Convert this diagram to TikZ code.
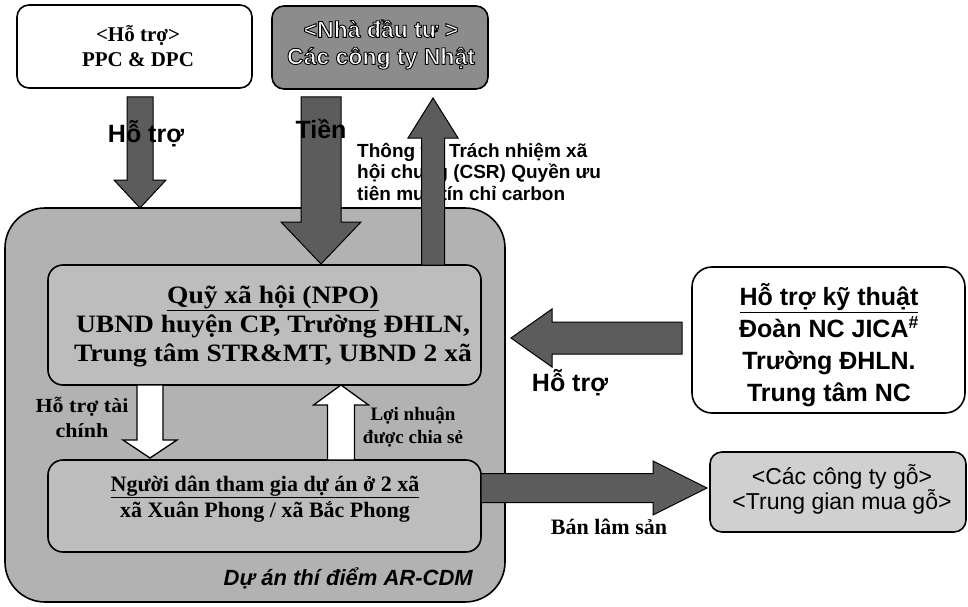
\documentclass[tikz,border=0pt]{standalone}
\usepackage{fontspec}
\setmainfont{Liberation Serif}
\newfontfamily\serifw[FakeStretch=1.1]{Liberation Serif}
\newfontfamily\arial{Liberation Sans}
\usetikzlibrary{calc}
\definecolor{outergray}{HTML}{B2B2B2}
\definecolor{innergray}{HTML}{BDBDBD}
\definecolor{invgray}{HTML}{8C8C8C}
\definecolor{arrowgray}{HTML}{5C5C5C}
\definecolor{woodgray}{HTML}{D0D0D0}
\newcommand\fs[2]{\fontsize{#1}{#2}\selectfont}
\newcommand\outlinetext[1]{{\color{white}\special{pdf:literal direct 0 0 0 RG 0.9 w 2 Tr}#1\special{pdf:literal direct 0 Tr}}}
% #1 style, #2 start, #3 tip, #4 shaft half width, #5 head half width, #6 head length
\newcommand\blockarrow[6]{%
  \coordinate (bh) at ($(#3)!#6!(#2)$);
  \path[#1] ($(#2)!#4!90:(#3)$) -- ($(bh)!#4!90:(#3)$) -- ($(bh)!#5!90:(#3)$) -- (#3)
    -- ($(bh)!#5!-90:(#3)$) -- ($(bh)!#4!-90:(#3)$) -- ($(#2)!#4!-90:(#3)$) -- cycle;}
\tikzset{
  box/.style={draw=black, line width=1.6pt, rounded corners=12pt, inner sep=0pt, outer sep=0pt},
  darkarrow/.style={fill=arrowgray, draw=black, line width=1pt},
  whitearrow/.style={fill=white, draw=black, line width=1.3pt},
  serifb/.style={font=\bfseries\fs{#1}{#1}, align=center, inner sep=0pt},
  sansb/.style={font=\arial\bfseries\fs{#1}{#1}, align=center, inner sep=0pt},
}
\begin{document}
\begin{tikzpicture}[x=1pt,y=-1pt]
\useasboundingbox (0,0) rectangle (968,607);
% boxes
\node[box, fill=outergray, rounded corners=40pt, minimum width=500pt, minimum height=394pt] (outer) at (255,405) {};
\node[box, fill=innergray, rounded corners=15pt, minimum width=433pt, minimum height=120pt] (npo) at (264.5,325) {};
\node[box, fill=innergray, rounded corners=15pt, minimum width=433pt, minimum height=92pt] (ppl) at (264.5,506) {};
\node[box, fill=white, minimum width=235pt, minimum height=83pt] (ppc) at (134.5,46.5) {};
\node[box, fill=invgray, minimum width=216pt, minimum height=83pt] (inv) at (380,47.5) {};
\node[box, fill=white, rounded corners=20pt, minimum width=273pt, minimum height=146pt] (tech) at (828.5,340) {};
\node[box, fill=woodgray, minimum width=256pt, minimum height=80pt] (wood) at (838,492) {};
% box texts
\node[serifb=21, font=\bfseries\fs{21}{25}] (ppct) at (138,46) {<Hỗ trợ>\\PPC \& DPC};
\node[sansb=23, font=\arial\bfseries\fs{23}{27}] (invt) at (381,44.5) {\outlinetext{<Nhà đầu tư >}\\\outlinetext{Các công ty Nhật}};
\node[serifb=25, font=\serifw\bfseries\fs{25}{29}] (npot) at (273,326) {\underline{Quỹ xã hội (NPO)}\\UBND huyện CP, Trường ĐHLN,\\Trung tâm STR\&MT, UBND 2 xã};
\node[serifb=22, font=\bfseries\fs{22}{26}] (pplt) at (265,499) {\underline{Người dân tham gia dự án ở 2 xã}\\xã Xuân Phong / xã Bắc Phong};
\node[sansb=25, font=\arial\bfseries\fs{25}{32}] (techt) at (829,345) {\underline{Hỗ trợ kỹ thuật}\\Đoàn NC JICA\textsuperscript{\#}\\Trường ĐHLN.\\Trung tâm NC};
\node[font=\arial\fs{23}{25}, align=center, inner sep=0pt] (woodt) at (842,489) {<Các công ty gỗ>\\<Trung gian mua gỗ>};
\node[font=\arial\bfseries\itshape\fs{22}{22}, anchor=east, inner sep=0pt] (proj) at (473,578) {Dự án thí điểm AR-CDM};
% CSR text (under the arrow)
\node[font=\arial\bfseries\fs{19}{21.5}, align=left, anchor=north west, inner sep=0pt] (csr) at (357,143) {Thông tin Trách nhiệm xã\\hội chung (CSR) Quyền ưu\\tiên mua tín chỉ carbon};
% arrow end points
\coordinate (a1s) at ($(ppc.south)+(5.5,9)$);
\coordinate (a1e) at (a1s |- outer.north);
\coordinate (a2s) at ($(inv.south)+(-59,8)$);
\coordinate (a2e) at ($(a2s |- npo.north)+(0,-1)$);
\coordinate (a3e) at ($(inv.south)+(53,9)$);
\coordinate (a3s) at (a3e |- npo.north);
\coordinate (a4s) at ($(tech.west)+(-10,-2)$);
\coordinate (a4e) at ($(outer.east |- a4s)+(6,0)$);
\coordinate (a5s) at ($(ppl.east)+(0,-18)$);
\coordinate (a5e) at ($(wood.west |- a5s)+(-3,0)$);
\coordinate (a6s) at ($(npo.south)+(-114.5,0)$);
\coordinate (a6e) at ($(a6s |- ppl.north)+(0,-2)$);
\coordinate (a7s) at ($(ppl.north)+(76.5,0)$);
\coordinate (a7e) at (a7s |- npo.south);
% arrows
\blockarrow{darkarrow}{a1s}{a1e}{13pt}{26pt}{28pt}
\blockarrow{darkarrow}{a2s}{a2e}{20pt}{40pt}{42pt}
\blockarrow{darkarrow}{a3s}{a3e}{11.5pt}{25pt}{40pt}
\blockarrow{darkarrow}{a4s}{a4e}{16pt}{29pt}{41pt}
\blockarrow{darkarrow}{a5s}{a5e}{14.5pt}{27pt}{54pt}
\blockarrow{whitearrow}{a6s}{a6e}{13pt}{27pt}{18pt}
\blockarrow{whitearrow}{a7s}{a7e}{13.5pt}{27.5pt}{20pt}
% arrow labels
\node[sansb=25] (l1) at (146,134) {Hỗ trợ};
\node[sansb=25] (l2) at (321,129) {Tiền};
\node[sansb=25] (l4) at (570,383) {Hỗ trợ};
\node[serifb=22] (l5) at (609,527) {Bán lâm sản};
\node[serifb=20, font=\serifw\bfseries\fs{20}{25}] (l6) at (82,417) {Hỗ trợ tài\\chính};
\node[serifb=19, font=\bfseries\fs{19}{23}] (l7) at (413,427) {Lợi nhuận\\được chia sẻ};
\end{tikzpicture}
\end{document}
